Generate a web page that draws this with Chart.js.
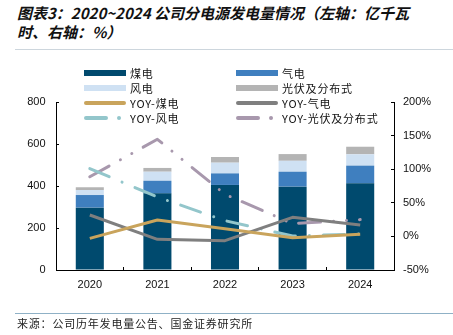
<!DOCTYPE html>
<html>
<head>
<meta charset="utf-8">
<script src="https://cdn.jsdelivr.net/npm/chart.js@4/dist/chart.umd.min.js"></script>
<style>
  html, body { margin: 0; padding: 0; background: #fff; }
  #wrap { position: relative; width: 453px; height: 335px; overflow: hidden; font-family: "Noto Sans CJK SC", sans-serif; }
  #c { position: absolute; left: 0; top: 0; }
  .title { position: absolute; left: 17px; top: 3px; font-size: 15px; font-style: italic; font-weight: 700; line-height: 19px; color: #111; white-space: nowrap; }
  .rule-top { position: absolute; left: 15px; right: 0; top: 49px; height: 1px; background: #cdd6dd; }
  .rule-bottom { position: absolute; left: 15px; right: 0; top: 313px; height: 1px; background: #8fb1c6; }
  .source { position: absolute; left: 17px; top: 315px; font-size: 11px; letter-spacing: 0.8px; color: #222; white-space: nowrap; }
  .lg-item { position: absolute; height: 14px; display: flex; align-items: center; white-space: nowrap; }
  .lg-item svg { display: block; }
  .lg-item span { font-size: 11px; color: #111; margin-left: 4px; letter-spacing: 0.8px; line-height: 14px; }
</style>
</head>
<body>
<div id="wrap">
  <div class="title">图表3：2020~2024 公司分电源发电量情况（左轴：亿千瓦<br>时、右轴：%）</div>
  <div class="rule-top"></div>
  <canvas id="c" width="453" height="335"></canvas>
  <div id="legend"></div>
  <div class="rule-bottom"></div>
  <div class="source">来源：公司历年发电量公告、国金证券研究所</div>
</div>
<script>
// Generation by source (亿千瓦时) and year-on-year growth (%)
const years = ['2020', '2021', '2022', '2023', '2024'];
const coal = [297, 365, 405, 397, 413];
const gas = [60, 60, 55, 71, 84];
const wind = [24, 43, 51, 52, 54];
const solar = [13, 18, 27, 32, 36];
const yoyCoal = [-3, 24.4, 11.5, -2, 3.1];
const yoyGas = [31.8, -4.4, -6.4, 28.4, 17];
const yoyWind = [101, 58.6, 23.4, 0.6, 3.6];
const yoySolar = [88.8, 144.5, 62.6, 19, 25];
const leftTicks = [0, 200, 400, 600, 800];
const rightTicks = [-50, 0, 50, 100, 150, 200];

const tickFont = { family: '"Liberation Sans", Arial, sans-serif', size: 11 };

function barSet(label, data, color) {
  return { type: 'bar', label, data, backgroundColor: color, borderWidth: 0,
           yAxisID: 'y', stack: 'gen', order: 2,
           categoryPercentage: 1, barPercentage: 0.415 };
}
function lineSet(label, data, color, dash) {
  return { type: 'line', label, data, borderColor: color, backgroundColor: color,
           borderWidth: 3, borderDash: dash, borderCapStyle: dash.length ? 'round' : 'butt',
           borderJoinStyle: 'round', pointRadius: 0, pointHoverRadius: 0, tension: 0,
           fill: false, yAxisID: 'y1', order: 1 };
}

const datasets = [
  barSet('煤电', coal, '#004a6e'),
  barSet('气电', gas, '#3f7fbf'),
  barSet('风电', wind, '#cfe1f3'),
  barSet('光伏及分布式', solar, '#b4b4b4'),
  lineSet('YOY-煤电', yoyCoal, '#c9a45c', []),
  lineSet('YOY-气电', yoyGas, '#7f7f7f', []),
  lineSet('YOY-风电', yoyWind, '#93c6cb', [21, 14, 0.01, 14]),
  lineSet('YOY-光伏及分布式', yoySolar, '#a898ad', [22, 13, 0.01, 13, 0.01, 13])
];

function axisGrid() {
  return { display: true, drawOnChartArea: false, drawTicks: true, tickLength: -3,
           color: '#000', lineWidth: 1 };
}

const chart = new Chart(document.getElementById('c'), {
  data: { labels: years, datasets },
  options: {
    responsive: false,
    animation: false,
    devicePixelRatio: 1,
    layout: { padding: { left: 16, right: 14, top: 102, bottom: 40 } },
    plugins: { legend: { display: false }, tooltip: { enabled: false }, title: { display: false } },
    scales: {
      x: {
        stacked: true,
        grid: Object.assign(axisGrid(), { offset: true }),
        border: { display: true, color: '#000', width: 1 },
        ticks: { font: tickFont, color: '#111', padding: 11, maxRotation: 0 },
        afterFit: s => { s.height = 25; }
      },
      y: {
        type: 'linear', position: 'left', stacked: true,
        min: leftTicks[0], max: leftTicks[leftTicks.length - 1],
        afterBuildTicks: s => { s.ticks = leftTicks.map(v => ({ value: v })); },
        grid: axisGrid(),
        border: { display: true, color: '#000', width: 1 },
        ticks: { font: tickFont, color: '#111', padding: 13.5 },
        afterFit: s => { s.width = 40; }
      },
      y1: {
        type: 'linear', position: 'right', stacked: false,
        min: rightTicks[0], max: rightTicks[rightTicks.length - 1],
        afterBuildTicks: s => { s.ticks = rightTicks.map(v => ({ value: v })); },
        grid: axisGrid(),
        border: { display: true, color: '#000', width: 1 },
        ticks: { font: tickFont, color: '#111', padding: 12, callback: v => v + '%' },
        afterFit: s => { s.width = 45; }
      }
    }
  }
});

// Two-column legend laid over the top of the plot
const legendCols = [84, 236];
const legendRows = [72.5, 87.5, 102.5, 117.5];
const legendEl = document.getElementById('legend');
chart.data.datasets.forEach((ds, i) => {
  const col = i % 2, row = Math.floor(i / 2);
  const item = document.createElement('div');
  item.className = 'lg-item';
  item.style.left = legendCols[col] + 'px';
  item.style.top = (legendRows[row] - 7) + 'px';
  let svg;
  if (ds.type === 'bar') {
    svg = `<svg width="42" height="8"><rect x="0" y="1" width="42" height="6" fill="${ds.backgroundColor}"/></svg>`;
  } else if (ds.borderDash.length) {
    svg = `<svg width="42" height="8"><line x1="2" y1="4" x2="42" y2="4" stroke="${ds.borderColor}" stroke-width="4" stroke-linecap="round" stroke-dasharray="20 13 0.01 100"/></svg>`;
  } else {
    svg = `<svg width="42" height="8"><line x1="2" y1="4" x2="40" y2="4" stroke="${ds.borderColor}" stroke-width="4" stroke-linecap="round"/></svg>`;
  }
  item.innerHTML = svg + `<span>${ds.label}</span>`;
  legendEl.appendChild(item);
});
</script>
</body>
</html>
